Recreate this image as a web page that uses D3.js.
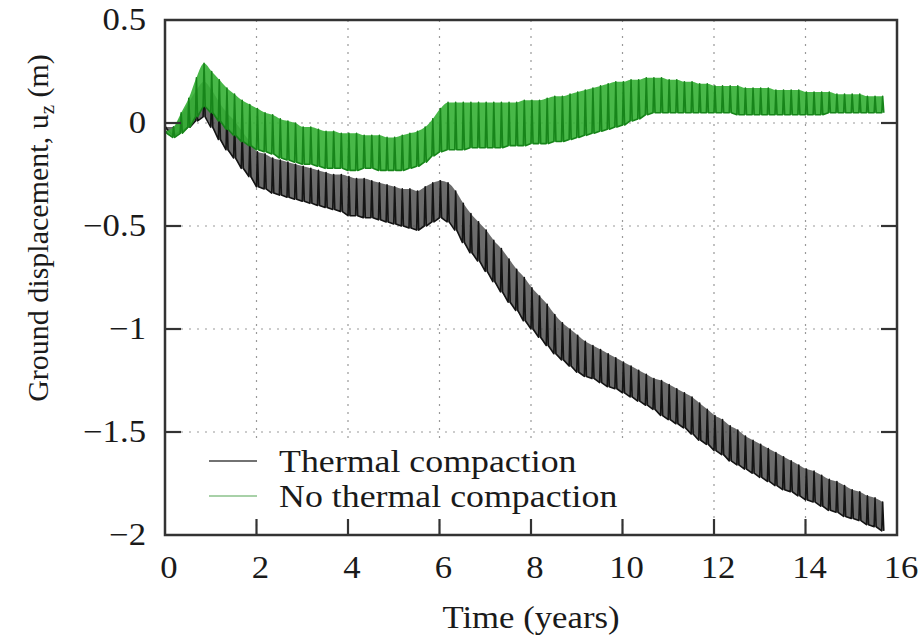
<!DOCTYPE html>
<html>
<head>
<meta charset="utf-8">
<script src="https://cdn.jsdelivr.net/npm/d3@7"></script>
<style>
  body { margin: 0; background: #fff; }
  text { font-family: "Liberation Serif", "DejaVu Serif", serif; fill: #1a1a1a; }
</style>
</head>
<body>
<svg id="chart" width="922" height="643"></svg>
<script>
// Axis ticks
const xTicks = [0, 2, 4, 6, 8, 10, 12, 14, 16];
const yTicks = [0.5, 0, -0.5, -1, -1.5, -2];

// One value pair per seasonal cycle, six cycles a year
const cyclesPerYear = 6;

// Thermal compaction: low / high of each cycle (m)
const thermalLo = [
  -0.03, -0.06, -0.04, -0.02, 0.01, 0.03,
  -0.02, -0.08, -0.13, -0.17, -0.22, -0.26,
  -0.31, -0.32, -0.34, -0.35, -0.36, -0.37,
  -0.38, -0.39, -0.40, -0.41, -0.42, -0.43,
  -0.45, -0.45, -0.46, -0.46, -0.47, -0.48,
  -0.49, -0.50, -0.51, -0.52, -0.50, -0.48,
  -0.46, -0.48, -0.52, -0.58, -0.63, -0.67,
  -0.72, -0.77, -0.82, -0.87, -0.91, -0.96,
  -1.00, -1.04, -1.08, -1.12, -1.15, -1.18,
  -1.21, -1.23, -1.24, -1.26, -1.28, -1.29,
  -1.31, -1.33, -1.35, -1.37, -1.39, -1.42,
  -1.44, -1.46, -1.48, -1.51, -1.54, -1.56,
  -1.59, -1.61, -1.64, -1.66, -1.68, -1.70,
  -1.72, -1.74, -1.76, -1.78, -1.79, -1.81,
  -1.83, -1.84, -1.86, -1.88, -1.89, -1.91,
  -1.92, -1.93, -1.95, -1.96, -1.98
];
const thermalHi = [
  -0.02, -0.02, 0.04, 0.10, 0.16, 0.20,
  0.16, 0.10, 0.05, 0.01, -0.04, -0.09,
  -0.14, -0.15, -0.17, -0.18, -0.19, -0.20,
  -0.21, -0.22, -0.23, -0.24, -0.25, -0.25,
  -0.26, -0.27, -0.27, -0.28, -0.29, -0.30,
  -0.31, -0.32, -0.32, -0.33, -0.31, -0.29,
  -0.28, -0.29, -0.33, -0.39, -0.44, -0.48,
  -0.52, -0.57, -0.61, -0.66, -0.71, -0.75,
  -0.80, -0.84, -0.88, -0.93, -0.97, -1.00,
  -1.03, -1.06, -1.08, -1.10, -1.12, -1.14,
  -1.16, -1.18, -1.20, -1.22, -1.24, -1.25,
  -1.27, -1.29, -1.31, -1.33, -1.36, -1.39,
  -1.42, -1.44, -1.47, -1.49, -1.52, -1.54,
  -1.56, -1.58, -1.60, -1.62, -1.64, -1.66,
  -1.68, -1.69, -1.71, -1.73, -1.74, -1.76,
  -1.78, -1.79, -1.81, -1.82, -1.84
];

// No thermal compaction: low / high of each cycle (m)
const noThermalLo = [
  -0.05, -0.07, -0.05, -0.02, 0.03, 0.08,
  0.05, 0.01, -0.03, -0.06, -0.09, -0.11,
  -0.13, -0.14, -0.15, -0.17, -0.18, -0.19,
  -0.20, -0.20, -0.21, -0.22, -0.22, -0.22,
  -0.23, -0.23, -0.22, -0.22, -0.23, -0.23,
  -0.23, -0.23, -0.22, -0.21, -0.19, -0.16,
  -0.14, -0.13, -0.13, -0.13, -0.12, -0.12,
  -0.12, -0.12, -0.12, -0.11, -0.11, -0.11,
  -0.10, -0.10, -0.10, -0.09, -0.09, -0.08,
  -0.07, -0.06, -0.05, -0.04, -0.03, -0.02,
  -0.01, 0.01, 0.02, 0.04, 0.05, 0.05,
  0.05, 0.05, 0.05, 0.05, 0.05, 0.05,
  0.05, 0.05, 0.05, 0.04, 0.04, 0.04,
  0.04, 0.04, 0.04, 0.04, 0.04, 0.04,
  0.04, 0.04, 0.04, 0.05, 0.05, 0.05,
  0.05, 0.05, 0.05, 0.05, 0.05
];
const noThermalHi = [
  -0.04, -0.02, 0.05, 0.12, 0.22, 0.29,
  0.25, 0.21, 0.17, 0.14, 0.11, 0.09,
  0.07, 0.05, 0.04, 0.02, 0.01, 0.00,
  -0.02, -0.02, -0.03, -0.04, -0.04, -0.05,
  -0.05, -0.05, -0.06, -0.06, -0.06, -0.07,
  -0.07, -0.06, -0.05, -0.04, -0.02, 0.02,
  0.07, 0.10, 0.10, 0.10, 0.10, 0.10,
  0.10, 0.10, 0.10, 0.10, 0.10, 0.11,
  0.11, 0.11, 0.12, 0.13, 0.13, 0.14,
  0.15, 0.16, 0.17, 0.18, 0.19, 0.20,
  0.20, 0.21, 0.21, 0.22, 0.22, 0.22,
  0.21, 0.21, 0.20, 0.20, 0.19, 0.19,
  0.18, 0.18, 0.18, 0.18, 0.17, 0.17,
  0.17, 0.17, 0.16, 0.16, 0.16, 0.16,
  0.15, 0.15, 0.15, 0.15, 0.14, 0.14,
  0.14, 0.14, 0.13, 0.13, 0.13
];

const seriesNames = ['Thermal compaction', 'No thermal compaction'];
const seriesColors = ['#141414', '#17851a'];
const bandColors = ['#4a4a4a', '#34b034'];

// Layout
const W = 922, H = 643;
const margin = { left: 165, right: 25, top: 20, bottom: 108 };
const plotW = W - margin.left - margin.right;
const plotH = H - margin.top - margin.bottom;
const stretch = 1.12;   // text in the original is slightly wide
const frameColor = '#333';

const svg = d3.select('#chart');
const g = svg.append('g').attr('transform', `translate(${margin.left},${margin.top})`);

const x = d3.scaleLinear().domain([0, 16]).range([0, plotW]);
const y = d3.scaleLinear().domain([-2, 0.5]).range([plotH, 0]);

const fmt = v => (v < 0 ? '\u2212' : '') + Math.abs(v);

// Grid
g.append('g').selectAll('line')
  .data(xTicks.slice(1, -1)).join('line')
  .attr('x1', d => x(d)).attr('x2', d => x(d))
  .attr('y1', 0).attr('y2', plotH)
  .attr('stroke', '#999').attr('stroke-width', 1.2)
  .attr('stroke-dasharray', '2,6');
g.append('g').selectAll('line')
  .data(yTicks.slice(1, -1)).join('line')
  .attr('x1', 0).attr('x2', plotW)
  .attr('y1', d => y(d)).attr('y2', d => y(d))
  .attr('stroke', '#999').attr('stroke-width', 1.2)
  .attr('stroke-dasharray', '2,6');

// Legend background hides the grid behind it
g.append('rect')
  .attr('x', 30).attr('y', 418).attr('width', 430).attr('height', 82)
  .attr('fill', '#fff');

// Series: each cycle is a quick up-and-down spike, giving vertical stripes
const buildPoints = (lo, hi) => {
  const pts = [];
  lo.forEach((v, i) => {
    const t = i / cyclesPerYear;
    pts.push([t, v]);
    pts.push([t + 0.02, hi[i]]);
    pts.push([t + 0.045, v]);
  });
  return pts;
};

const line = d3.line().x(d => x(d[0])).y(d => y(d[1]));
const band = d3.area()
  .x(d => x(d.t))
  .y0(d => y(d.lo))
  .y1(d => y(d.hi))
  .curve(d3.curveMonotoneX);

const seriesData = [
  { lo: thermalLo, hi: thermalHi },
  { lo: noThermalLo, hi: noThermalHi }
];

seriesData.forEach((s, i) => {
  const env = s.lo.map((v, k) => ({ t: k / cyclesPerYear + 0.02, lo: v, hi: s.hi[k] }));
  g.append('path')
    .datum(env)
    .attr('d', band)
    .attr('fill', bandColors[i])
    .attr('fill-opacity', i ? 0.9 : 0.82);
  g.append('path')
    .datum(buildPoints(s.lo, s.hi))
    .attr('d', line)
    .attr('fill', 'none')
    .attr('stroke', seriesColors[i])
    .attr('stroke-width', 1.6)
    .attr('stroke-linejoin', 'round');
});

// Frame and ticks
g.append('rect')
  .attr('width', plotW).attr('height', plotH)
  .attr('fill', 'none').attr('stroke', frameColor).attr('stroke-width', 2.5);

const tickLen = 16;
g.append('g').selectAll('line')
  .data(xTicks.slice(1, -1)).join('line')
  .attr('x1', d => x(d)).attr('x2', d => x(d))
  .attr('y1', plotH).attr('y2', plotH - tickLen)
  .attr('stroke', frameColor).attr('stroke-width', 2.2);
[0, plotW].forEach(x0 => {
  g.append('g').selectAll('line')
    .data(yTicks.slice(1, -1)).join('line')
    .attr('x1', x0).attr('x2', x0 === 0 ? tickLen : plotW - tickLen)
    .attr('y1', d => y(d)).attr('y2', d => y(d))
    .attr('stroke', frameColor).attr('stroke-width', 2.2);
});

// Tick labels
g.append('g').selectAll('text')
  .data(xTicks).join('text')
  .attr('transform', d => `translate(${x(d) + 4},${plotH + 43}) scale(${stretch},1)`)
  .attr('text-anchor', 'middle')
  .attr('font-size', 31)
  .text(fmt);

g.append('g').selectAll('text')
  .data(yTicks).join('text')
  .attr('transform', d => `translate(-19,${y(d) + 10}) scale(${stretch},1)`)
  .attr('text-anchor', 'end')
  .attr('font-size', 31)
  .text(fmt);

// Axis titles
g.append('text')
  .attr('transform', `translate(${plotW / 2},${plotH + 93}) scale(${stretch},1)`)
  .attr('text-anchor', 'middle')
  .attr('font-size', 31)
  .text('Time (years)');

const yTitle = svg.append('text')
  .attr('transform', `translate(48,228) rotate(-90)`)
  .attr('text-anchor', 'middle')
  .attr('font-size', 30);
yTitle.append('tspan').text('Ground displacement, u');
yTitle.append('tspan').attr('font-size', 21).attr('dy', 6).text('z');
yTitle.append('tspan').attr('dy', -6).text(' (m)');

// Legend
const legend = g.append('g').attr('transform', 'translate(44,441)');
seriesNames.forEach((name, i) => {
  const row = legend.append('g').attr('transform', `translate(0,${i * 35})`);
  row.append('line')
    .attr('x1', 0).attr('x2', 48)
    .attr('stroke', seriesColors[i]).attr('stroke-opacity', i ? 0.5 : 0.8)
    .attr('stroke-width', 1.4);
  row.append('text')
    .attr('transform', `translate(70,11) scale(${stretch},1)`)
    .attr('font-size', 32)
    .text(name);
});
</script>
</body>
</html>
